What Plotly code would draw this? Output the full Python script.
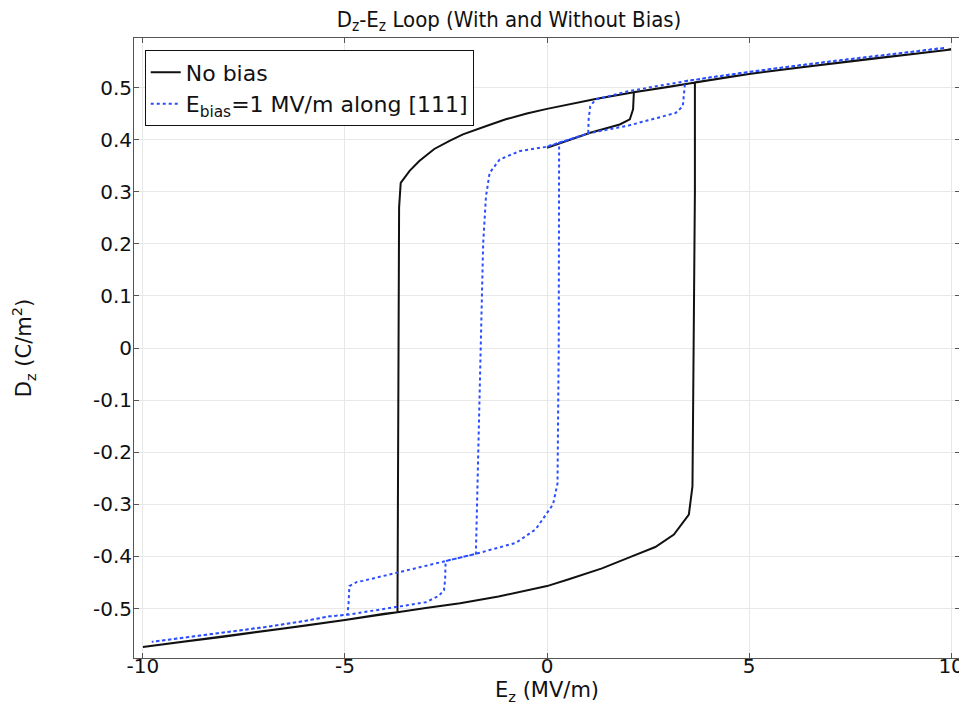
import plotly.graph_objects as go

# ---------------- data ----------------
# No bias: initial branch starting at E=0
nb_init_E = [0.0, 1.07, 1.8, 2.05, 2.13, 2.15]
nb_init_D = [0.384, 0.413, 0.429, 0.439, 0.458, 0.491]
# No bias: upper (saturated positive) branch, E ascending
nb_up_E = [-3.62, -3.4, -3.16, -2.79, -2.4, -2.08, -1.5, -1.02, -0.5, 0.0, 0.6, 1.2, 2.15, 3.0, 3.66, 4.49, 5.0, 6.0, 7.0, 8.0, 9.0, 10.0]
nb_up_D = [0.317, 0.340, 0.359, 0.382, 0.398, 0.410, 0.426, 0.439, 0.450, 0.459, 0.469, 0.478, 0.491, 0.501, 0.510, 0.520, 0.526, 0.536, 0.546, 0.555, 0.564, 0.573]
# No bias: lower (saturated negative) branch, E ascending
nb_lo_E = [-10.0, -9.0, -8.0, -7.0, -6.0, -5.0, -4.03, -3.7, -3.0, -2.15, -1.2, 0.0, 0.54, 1.36, 2.1, 2.68, 3.14, 3.51]
nb_lo_D = [-0.574, -0.564, -0.554, -0.544, -0.533, -0.522, -0.510, -0.507, -0.499, -0.490, -0.477, -0.457, -0.444, -0.423, -0.400, -0.382, -0.358, -0.320]
# No bias: switching segments
nb_sw_down_E = [-3.66, -3.70]
nb_sw_down_D = [0.27, -0.507]
nb_sw_up_E = [3.6, 3.66]
nb_sw_up_D = [-0.265, 0.30]

# Bias 1 MV/m along [111]
b_up_E = [1.2, 2.02, 3.42, 4.0, 5.0, 6.0, 7.0, 8.0, 9.0, 9.85]
b_up_D = [0.477, 0.493, 0.512, 0.519, 0.530, 0.540, 0.550, 0.559, 0.568, 0.576]
b_step_up_E = [1.07, 1.03, 1.02]
b_step_up_D = [0.464, 0.439, 0.412]
b_in_up_E = [-1.51, -1.42, -1.17, -0.67, -0.03, 0.30, 1.02, 2.02, 3.18, 3.36, 3.41]
b_in_up_D = [0.291, 0.336, 0.362, 0.378, 0.386, 0.394, 0.412, 0.427, 0.451, 0.464, 0.496]
b_sw_down_E = [-1.58, -1.76]
b_sw_down_D = [0.20, -0.395]
b_in_lo_E = [-4.56, -3.5, -2.51, -1.76, -0.77, -0.28, -0.11, 0.15, 0.26, 0.29]
b_in_lo_D = [-0.447, -0.428, -0.409, -0.395, -0.374, -0.348, -0.329, -0.300, -0.260, 0.0]
b_step_lo_E = [-2.52, -2.55, -2.68, -3.0]
b_step_lo_D = [-0.444, -0.465, -0.476, -0.488]
b_lo_E = [-9.78, -9.0, -8.0, -7.0, -6.0, -5.38, -4.94, -4.5, -3.75]
b_lo_D = [-0.564, -0.556, -0.546, -0.536, -0.524, -0.515, -0.512, -0.506, -0.497]
b_step_lo_up_E = [-4.91, -4.89, -4.7]
b_step_lo_up_D = [-0.490, -0.457, -0.449]

x_tickvals = [-10, -5, 0, 5, 10]
x_ticktext = ["-10", "-5", "0", "5", "10"]
y_tickvals = [-0.5, -0.4, -0.3, -0.2, -0.1, 0, 0.1, 0.2, 0.3, 0.4, 0.5]
y_ticktext = ["-0.5", "-0.4", "-0.3", "-0.2", "-0.1", "0", "0.1", "0.2", "0.3", "0.4", "0.5"]


def sel(E, D, cond, rev=False):
    pts = [(e, d) for e, d in zip(E, D) if cond(e)]
    if rev:
        pts = pts[::-1]
    return [p[0] for p in pts], [p[1] for p in pts]


# ---- build No-bias path ----
X, Y = list(nb_init_E), list(nb_init_D)
e, d = sel(nb_up_E, nb_up_D, lambda v: v > 2.15); X += e; Y += d
e, d = sel(nb_up_E, nb_up_D, lambda v: True, rev=True); X += e; Y += d
X += nb_sw_down_E; Y += nb_sw_down_D
e, d = sel(nb_lo_E, nb_lo_D, lambda v: v < -3.7, rev=True); X += e; Y += d
X += nb_lo_E; Y += nb_lo_D
X += nb_sw_up_E; Y += nb_sw_up_D
e, d = sel(nb_up_E, nb_up_D, lambda v: v >= 3.66); X += e; Y += d

# ---- build bias path ----
BX, BY = [0.0], [0.386]
e, d = sel(b_in_up_E, b_in_up_D, lambda v: v >= 0.30); BX += e; BY += d
e, d = sel(b_up_E, b_up_D, lambda v: v >= 3.42); BX += e; BY += d
BX += b_up_E[::-1]; BY += b_up_D[::-1]
BX += b_step_up_E; BY += b_step_up_D
e, d = sel(b_in_up_E, b_in_up_D, lambda v: v < 1.02, rev=True); BX += e; BY += d
BX += b_sw_down_E; BY += b_sw_down_D
e, d = sel(b_in_lo_E, b_in_lo_D, lambda v: -2.51 <= v < -1.76, rev=True); BX += e; BY += d
BX += b_step_lo_E; BY += b_step_lo_D
BX += b_lo_E[::-1]; BY += b_lo_D[::-1]
e, d = sel(b_lo_E, b_lo_D, lambda v: v <= -4.94); BX += e; BY += d
BX += b_step_lo_up_E; BY += b_step_lo_up_D
BX += b_in_lo_E; BY += b_in_lo_D
e, d = sel(b_in_up_E, b_in_up_D, lambda v: v >= 0.30); BX += e; BY += d
e, d = sel(b_up_E, b_up_D, lambda v: v >= 3.42); BX += e; BY += d

FONT = "DejaVu Sans"
INK = "#111111"
W, H = 959, 707  # page has an 8px body margin

fig = go.Figure()
fig.add_trace(go.Scatter(x=X, y=Y, mode="lines", name="No bias",
                         line=dict(color=INK, width=2)))
fig.add_trace(go.Scatter(x=BX, y=BY, mode="lines",
                         name="E<sub>bias</sub>=1 MV/m along [111]",
                         line=dict(color="#2a4dff", width=2, dash="dot")))

axis_common = dict(showgrid=True, gridcolor="#e8e8e8", gridwidth=1, automargin=False,
                   zeroline=False, showline=True, linecolor="#555555", linewidth=1,
                   mirror="ticks", ticks="inside", ticklen=5, tickcolor="#555555",
                   tickfont=dict(family=FONT, size=20, color=INK))

fig.update_layout(
    width=W, height=H,
    paper_bgcolor="white", plot_bgcolor="white",
    margin=dict(l=126, r=7, t=30, b=57),
    title=dict(text="D<sub>z</sub>-E<sub>z</sub> Loop (With and Without Bias)",
               x=501 / W, xanchor="center", y=1 - 11 / H, yanchor="middle",
               font=dict(family="DejaVu Sans Condensed, " + FONT, size=22, color=INK)),
    xaxis=dict(range=[-10.22, 10.22], tickvals=x_tickvals, ticktext=x_ticktext,
               ticklabelstandoff=-10,
               title=dict(text="E<sub>z</sub> (MV/m)", standoff=5,
                          font=dict(family=FONT, size=21, color=INK)),
               **axis_common),
    yaxis=dict(range=[-0.595, 0.595], tickvals=y_tickvals, ticktext=y_ticktext,
               ticklabelstandoff=-3,
               title=dict(text="D<sub>z</sub> (C/m<sup>2</sup>)", standoff=55,
                          font=dict(family=FONT, size=21, color=INK)),
               **axis_common),
    legend=dict(x=0.013, y=0.98, xanchor="left", yanchor="top",
                bgcolor="white", bordercolor=INK, borderwidth=1,
                font=dict(family=FONT, size=22, color=INK),
                itemwidth=30, tracegroupgap=0),
    showlegend=True,
)

fig.write_html("out.html")
